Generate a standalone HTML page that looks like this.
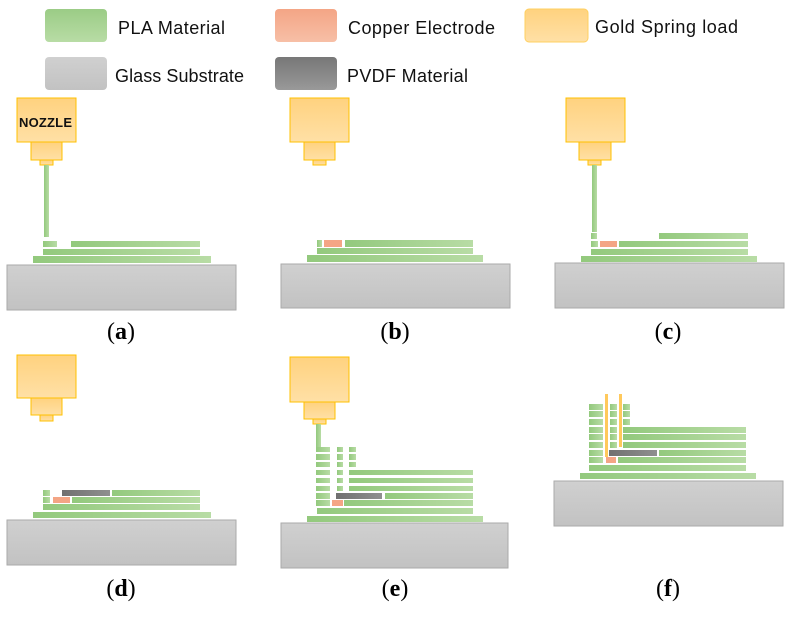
<!DOCTYPE html>
<html><head><meta charset="utf-8"><style>
html,body{margin:0;padding:0;background:#fff;}
svg{display:block;}
.lg{font-family:"Liberation Sans",sans-serif;font-size:18px;fill:#111;}
.lab{font-family:"Liberation Serif",serif;font-size:24px;fill:#000;}
</style></head><body>
<svg width="793" height="618" viewBox="0 0 793 618" xmlns="http://www.w3.org/2000/svg">
<defs>
<linearGradient id="g" x1="0" x2="1" y1="0" y2="0"><stop offset="0" stop-color="#93c97d"/><stop offset="1" stop-color="#b8dca5"/></linearGradient>
<linearGradient id="gv" x1="0" x2="0" y1="0" y2="1"><stop offset="0" stop-color="#9bcc86"/><stop offset="1" stop-color="#b8dca5"/></linearGradient>
<linearGradient id="s" x1="0" x2="0" y1="0" y2="1"><stop offset="0" stop-color="#d0d0d0"/><stop offset="1" stop-color="#c2c2c2"/></linearGradient>
<linearGradient id="o" x1="0" x2="0" y1="0" y2="1"><stop offset="0" stop-color="#ffd27f"/><stop offset="1" stop-color="#ffe0a6"/></linearGradient>
<linearGradient id="c" x1="0" x2="0" y1="0" y2="1"><stop offset="0" stop-color="#f4a585"/><stop offset="1" stop-color="#f7bfa6"/></linearGradient>
<linearGradient id="p" x1="0" x2="1" y1="0" y2="0"><stop offset="0" stop-color="#707070"/><stop offset="1" stop-color="#8f8f8f"/></linearGradient>
<linearGradient id="pv" x1="0" x2="0" y1="0" y2="1"><stop offset="0" stop-color="#777"/><stop offset="1" stop-color="#999"/></linearGradient>
</defs>
<!-- legend -->
<rect x="45" y="9" width="62" height="33" rx="4" fill="url(#gv)"/>
<text class="lg" x="118" y="34" textLength="107">PLA Material</text>
<rect x="275" y="9" width="62" height="33" rx="4" fill="url(#c)"/>
<text class="lg" x="348" y="34" textLength="147">Copper Electrode</text>
<rect x="525" y="9" width="63" height="33" rx="4" fill="url(#o)" stroke="#ffd060"/>
<text class="lg" x="595" y="33" textLength="143">Gold Spring load</text>
<rect x="45" y="57" width="62" height="33" rx="4" fill="url(#s)"/>
<text class="lg" x="115" y="82" textLength="129">Glass Substrate</text>
<rect x="275" y="57" width="62" height="33" rx="4" fill="url(#pv)"/>
<text class="lg" x="347" y="82" textLength="121">PVDF Material</text>

<g stroke="#ffc000" stroke-width="1" fill="url(#o)">
<!-- a -->
<rect x="17" y="98" width="59" height="44"/><rect x="31" y="142" width="31" height="18"/><rect x="40" y="160" width="13" height="5"/>
<!-- b -->
<rect x="290" y="98" width="59" height="44"/><rect x="304" y="142" width="31" height="18"/><rect x="313" y="160" width="13" height="5"/>
<!-- c -->
<rect x="566" y="98" width="59" height="44"/><rect x="579" y="142" width="32" height="18"/><rect x="588" y="160" width="13" height="5"/>
<!-- d -->
<rect x="17" y="355" width="59" height="43"/><rect x="31" y="398" width="31" height="17"/><rect x="40" y="415" width="13" height="6"/>
<!-- e -->
<rect x="290" y="357" width="59" height="45"/><rect x="304" y="402" width="31" height="17"/><rect x="313" y="419" width="13" height="5"/>
</g>
<text x="19" y="127" font-family="Liberation Sans,sans-serif" font-weight="bold" font-size="13" fill="#111" textLength="53">NOZZLE</text>

<g stroke="#aaa" fill="url(#s)">
<rect x="7" y="265" width="229" height="45"/>
<rect x="281" y="264" width="229" height="44"/>
<rect x="555" y="263" width="229" height="45"/>
<rect x="7" y="520" width="229" height="45"/>
<rect x="281" y="523" width="227" height="45"/>
<rect x="554" y="481" width="229" height="45"/>
</g>

<g fill="url(#g)">
<!-- a -->
<rect x="44" y="165" width="5" height="72"/>
<rect x="33" y="256" width="178" height="7"/><rect x="43" y="249" width="157" height="6"/>
<rect x="43" y="241" width="14" height="6"/><rect x="71" y="241" width="129" height="6"/>
<!-- b -->
<rect x="307" y="255" width="176" height="7"/><rect x="317" y="248" width="156" height="6"/>
<rect x="317" y="240" width="5" height="7"/><rect x="345" y="240" width="128" height="7"/>
<!-- c -->
<rect x="592" y="165" width="5" height="67"/>
<rect x="581" y="256" width="176" height="6"/><rect x="591" y="249" width="157" height="6"/>
<rect x="591" y="241" width="7" height="6"/><rect x="619" y="241" width="129" height="6"/>
<rect x="591" y="233" width="6" height="6"/><rect x="659" y="233" width="89" height="6"/>
<!-- d -->
<rect x="33" y="512" width="178" height="6"/><rect x="43" y="504" width="157" height="6"/>
<rect x="43" y="497" width="7" height="6"/><rect x="72" y="497" width="128" height="6"/>
<rect x="43" y="490" width="7" height="6"/><rect x="112" y="490" width="88" height="6"/>
<!-- e -->
<rect x="316" y="424" width="5" height="23"/>
<rect x="307" y="516" width="176" height="6"/><rect x="317" y="508" width="156" height="6"/>
<rect x="316" y="500" width="14" height="6"/><rect x="344" y="500" width="129" height="6"/>
<rect x="316" y="493" width="14" height="6"/><rect x="385" y="493" width="88" height="6"/>
<rect x="316" y="486" width="14" height="5"/><rect x="337" y="486" width="6" height="5"/><rect x="349" y="486" width="124" height="5"/>
<rect x="316" y="478" width="14" height="5"/><rect x="337" y="478" width="6" height="5"/><rect x="349" y="478" width="124" height="5"/>
<rect x="316" y="470" width="14" height="5"/><rect x="337" y="470" width="6" height="5"/><rect x="349" y="470" width="124" height="5"/>
<rect x="316" y="462" width="14" height="5"/><rect x="337" y="462" width="6" height="5"/><rect x="349" y="462" width="7" height="5"/>
<rect x="316" y="454" width="14" height="6"/><rect x="337" y="454" width="6" height="6"/><rect x="349" y="454" width="7" height="6"/>
<rect x="316" y="447" width="14" height="5"/><rect x="337" y="447" width="6" height="5"/><rect x="349" y="447" width="7" height="5"/>
<!-- f -->
<rect x="580" y="473" width="176" height="6"/><rect x="589" y="465" width="157" height="6"/>
<rect x="589" y="457" width="14" height="6"/><rect x="618" y="457" width="128" height="6"/>
<rect x="589" y="450" width="14" height="6"/><rect x="659" y="450" width="87" height="6"/>
<rect x="589" y="442" width="14" height="6"/><rect x="610" y="442" width="7" height="6"/><rect x="623" y="442" width="123" height="6"/>
<rect x="589" y="434" width="14" height="6"/><rect x="610" y="434" width="7" height="6"/><rect x="623" y="434" width="123" height="6"/>
<rect x="589" y="427" width="14" height="6"/><rect x="610" y="427" width="7" height="6"/><rect x="623" y="427" width="123" height="6"/>
<rect x="589" y="419" width="14" height="6"/><rect x="610" y="419" width="7" height="6"/><rect x="623" y="419" width="7" height="6"/>
<rect x="589" y="411" width="14" height="6"/><rect x="610" y="411" width="7" height="6"/><rect x="623" y="411" width="7" height="6"/>
<rect x="589" y="404" width="14" height="6"/><rect x="610" y="404" width="7" height="6"/><rect x="623" y="404" width="7" height="6"/>
</g>
<g fill="#f4a585">
<rect x="324" y="240" width="18" height="7"/>
<rect x="600" y="241" width="17" height="6"/>
<rect x="53" y="497" width="17" height="6"/>
<rect x="332" y="500" width="11" height="6"/>
<rect x="606" y="457" width="10" height="6"/>
</g>
<g fill="url(#p)">
<rect x="62" y="490" width="48" height="6"/>
<rect x="336" y="493" width="46" height="6"/>
<rect x="609" y="450" width="48" height="6"/>
</g>
<g fill="#ffc95c">
<rect x="605" y="394" width="3" height="63"/>
<rect x="619" y="394" width="3" height="53"/>
</g>

<g class="lab" text-anchor="middle">
<text x="121" y="339">(<tspan font-weight="bold">a</tspan>)</text>
<text x="395" y="339">(<tspan font-weight="bold">b</tspan>)</text>
<text x="668" y="339">(<tspan font-weight="bold">c</tspan>)</text>
<text x="121" y="596">(<tspan font-weight="bold">d</tspan>)</text>
<text x="395" y="596">(<tspan font-weight="bold">e</tspan>)</text>
<text x="668" y="596">(<tspan font-weight="bold">f</tspan>)</text>
</g>
</svg>
</body></html>
